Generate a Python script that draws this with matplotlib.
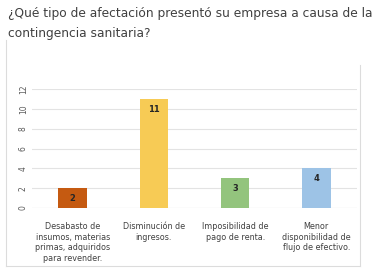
import matplotlib.pyplot as plt
from matplotlib.lines import Line2D

categories = ['Desabasto de\ninsumos, materias\nprimas, adquiridos\npara revender.',
              'Disminución de\ningresos.',
              'Imposibilidad de\npago de renta.',
              'Menor\ndisponibilidad de\nflujo de efectivo.']
values = [2, 11, 3, 4]
colors = ['#C55A11', '#F7CB55', '#93C47D', '#9DC3E6']
yticks = [0, 2, 4, 6, 8, 10, 12]

W, H = 373, 270
fig = plt.figure(figsize=(W / 100, H / 100), dpi=100)
fig.patch.set_facecolor('white')

# partial chart border (left, right, bottom)
border = '#DCDCDC'
fig.add_artist(Line2D([6 / W, 6 / W], [1 - 40 / H, 1 - 266 / H], transform=fig.transFigure, color=border, lw=0.8))
fig.add_artist(Line2D([360 / W, 360 / W], [1 - 65 / H, 1 - 266 / H], transform=fig.transFigure, color=border, lw=0.8))
fig.add_artist(Line2D([6 / W, 360 / W], [1 - 266 / H, 1 - 266 / H], transform=fig.transFigure, color=border, lw=0.8))

fig.text(8 / W, 1 - 13 / H, '¿Qué tipo de afectación presentó su empresa a causa de la',
         fontsize=8.8, color='#404040', va='center', ha='left')
fig.text(8 / W, 1 - 33 / H, 'contingencia sanitaria?',
         fontsize=8.8, color='#404040', va='center', ha='left')

ax = fig.add_axes([32 / W, 1 - 208 / H, 325 / W, 119 / H])
x = range(len(values))
ax.bar(x, values, width=0.35, color=colors, zorder=3)
for xi, v in zip(x, values):
    ax.text(xi, v - 0.6, str(v), ha='center', va='top', fontsize=6, fontweight='bold', color='#262626', zorder=4)

ax.set_ylim(0, 12)
ax.set_xlim(-0.5, 3.5)
ax.set_yticks(yticks)
ax.set_yticklabels([str(t) for t in yticks], rotation=90, va='center', fontsize=5.5, color='#595959')
ax.set_xticks(list(x))
ax.set_xticklabels(categories, fontsize=5.8, color='#404040', linespacing=1.25)
ax.tick_params(length=0, pad=3)
ax.tick_params(axis='x', pad=10)
ax.grid(axis='y', color='#E3E3E3', lw=0.8, zorder=0)
for s in ax.spines.values():
    s.set_visible(False)
ax.axhline(0, color='#D9D9D9', lw=0.8, zorder=2)

fig.savefig('out.png', dpi=100)
